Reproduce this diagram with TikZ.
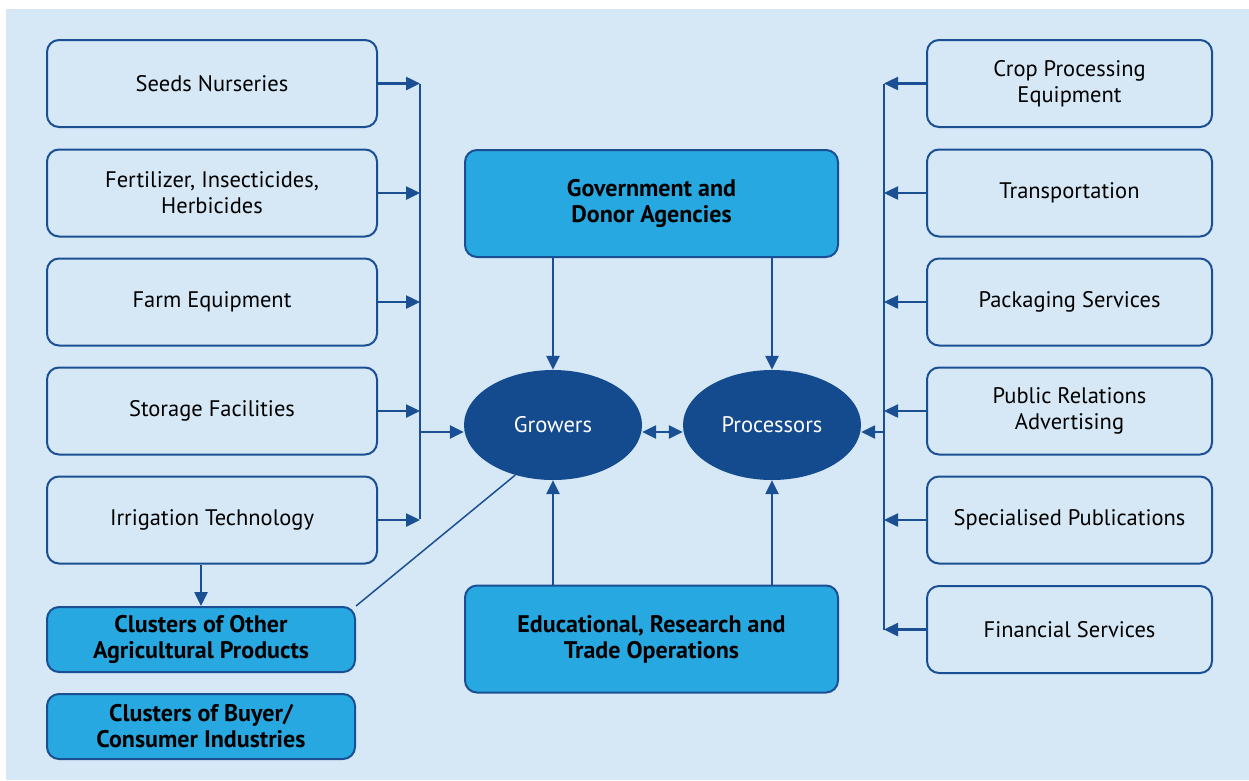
\documentclass[tikz,border=0pt]{standalone}
\usepackage{fontspec}
\setmainfont{PT Sans}
\usetikzlibrary{arrows.meta,shapes.geometric}

\definecolor{bgblue}{HTML}{D6E8F6}
\definecolor{lineblue}{HTML}{1B4F93}
\definecolor{darkblue}{HTML}{144A8E}
\definecolor{cyanbox}{HTML}{27A8E0}

\tikzset{
  supplier/.style={draw=lineblue, line width=2pt, fill=bgblue, rounded corners=12pt,
    minimum width=330pt, minimum height=87pt, align=center, inner sep=2pt,
    font=\fontsize{22.5}{26}\selectfont},
  service/.style={supplier, minimum width=285pt},
  agency/.style={supplier, fill=cyanbox, minimum width=373pt, minimum height=107pt,
    font=\fontsize{24}{26}\selectfont\bfseries},
  cluster/.style={agency, minimum width=308pt, minimum height=65pt},
  player/.style={ellipse, fill=darkblue, text=white, inner sep=0pt,
    minimum width=178pt, minimum height=110pt, font=\fontsize{22.5}{26}\selectfont},
  link/.style={draw=lineblue, line width=2.5pt, -{Triangle[length=14pt,width=13pt]}},
  bus/.style={draw=lineblue, line width=2.5pt},
}

\begin{document}
\begin{tikzpicture}[x=1pt,y=-1pt]
\useasboundingbox (0,0) rectangle (1249,780);
\fill[bgblue] (6,9) rectangle (1249,780);

% Suppliers (left)
\node[supplier] (seeds)      at (212,83.5) {Seeds Nurseries};
\node[supplier] (fertilizer) at (212,193)  {Fertilizer, Insecticides,\\Herbicides};
\node[supplier] (farm)       at (212,302)  {Farm Equipment};
\node[supplier] (storage)    at (212,411)  {Storage Facilities};
\node[supplier] (irrigation) at (212,520)  {Irrigation Technology};

% Clusters
\node[cluster] (otheragri) at (201,639.5) {Clusters of Other\\Agricultural Products};
\node[cluster] (buyers)    at (201,726.5) {Clusters of Buyer/\\Consumer Industries};

% Agencies
\node[agency] (gov) at (651.5,203.5) {Government and\\Donor Agencies};
\node[agency] (edu) at (651.5,639)   {Educational, Research and\\Trade Operations};

% Players
\node[player] (growers)    at (553,425) {Growers};
\node[player] (processors) at (772,425) {Processors};

% Services (right)
\node[service] (crop)      at (1069.5,83.5)  {Crop Processing\\Equipment};
\node[service] (transport) at (1069.5,193)   {Transportation};
\node[service] (packaging) at (1069.5,302)   {Packaging Services};
\node[service] (publicrel) at (1069.5,411)   {Public Relations\\Advertising};
\node[service] (publish)   at (1069.5,520)   {Specialised Publications};
\node[service] (finance)   at (1069.5,629.5) {Financial Services};

% Buses
\coordinate (lbusT) at (420,84);
\coordinate (lbusB) at (420,519);
\coordinate (lbusG) at (420,432);
\coordinate (rbusT) at (884,84);
\coordinate (rbusB) at (884,630);
\coordinate (rbusP) at (884,432);
\draw[bus] (lbusT) -- (lbusB);
\draw[bus] (rbusT) -- (rbusB);

% Connections left
\foreach \s in {seeds,fertilizer,farm,storage,irrigation}
  \draw[link] (\s.east) -- (\s.east -| lbusT);
\draw[link] (lbusG) -- (lbusG -| growers.west);
\draw[link] (irrigation.south -| otheragri.north) -- (otheragri.north);
\draw[lineblue, line width=1.5pt] (growers.233) -- (otheragri.north east);

% Connections right
\foreach \s in {crop,transport,packaging,publicrel,publish,finance}
  \draw[link] (\s.west) -- (\s.west -| rbusT);
\draw[link] (rbusP) -- (rbusP -| processors.east);

% Connections centre
\draw[link, {Triangle[length=14pt,width=13pt]}-{Triangle[length=14pt,width=13pt]}]
  (growers.east |- lbusG) -- (processors.west |- lbusG);
\draw[link] (gov.south -| growers.north) -- (growers.north);
\draw[link] (gov.south -| processors.north) -- (processors.north);
\draw[link] (edu.north -| growers.south) -- (growers.south);
\draw[link] (edu.north -| processors.south) -- (processors.south);
\end{tikzpicture}
\end{document}
